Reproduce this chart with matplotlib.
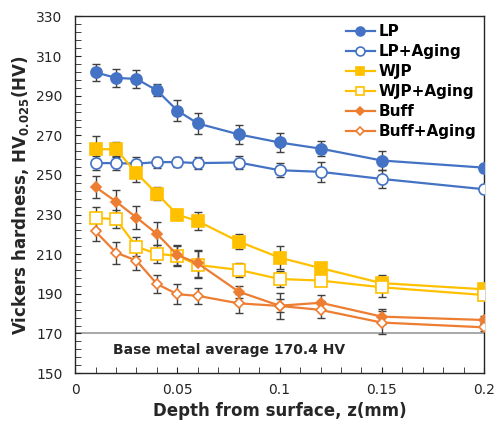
import numpy as np
import matplotlib.pyplot as plt

depth = [0.01, 0.02, 0.03, 0.04, 0.05, 0.06, 0.08, 0.1, 0.12, 0.15, 0.2]

lp = [301.8, 299.0, 298.5, 292.7, 282.5, 276.0, 270.5, 266.4, 263.3, 257.3, 253.7]
lp_err = [4.4, 4.6, 4.6, 3.0, 5.2, 5.2, 4.8, 4.7, 3.7, 4.9, 2.0]
lp_age = [256.0, 256.0, 255.7, 256.5, 256.5, 256.0, 256.3, 252.4, 251.6, 248.0, 242.8]
lp_age_err = [3.5, 3.5, 3.4, 2.8, 2.5, 3.2, 3.5, 3.5, 5.0, 4.6, 2.0]

wjp = [263.0, 263.0, 250.9, 240.6, 230.0, 226.7, 216.4, 208.3, 203.0, 195.4, 192.3]
wjp_err = [6.5, 3.8, 4.2, 3.4, 2.0, 4.4, 4.0, 6.0, 2.0, 4.2, 3.0]
wjp_age = [228.3, 227.7, 213.8, 210.2, 209.2, 204.6, 202.1, 197.5, 196.7, 193.3, 189.4]
wjp_age_err = [5.7, 4.6, 4.8, 4.6, 5.0, 6.8, 3.7, 4.0, 2.0, 5.0, 2.0]

buff = [243.9, 236.6, 228.5, 220.3, 209.6, 205.4, 191.1, 184.0, 185.5, 178.5, 176.8]
buff_err = [5.5, 5.7, 5.8, 5.8, 5.2, 6.8, 3.0, 6.5, 3.8, 3.7, 2.0]
buff_age = [221.5, 210.8, 206.8, 195.0, 189.8, 189.0, 185.2, 183.9, 181.9, 175.5, 173.1]
buff_age_err = [4.6, 5.6, 5.0, 4.6, 5.0, 4.2, 4.8, 3.3, 4.3, 5.7, 2.0]

base_metal = 170.4

x_ticks = [0, 0.05, 0.1, 0.15, 0.2]
x_tick_labels = ['0', '0.05', '0.1', '0.15', '0.2']
y_ticks = np.arange(150, 331, 20)

blue = '#4472C4'
yellow = '#FFC000'
orange = '#ED7D31'

fig = plt.figure(figsize=(4.94, 4.23), dpi=100)
ax = fig.add_axes([0.152, 0.118, 0.828, 0.843])

series = [
    (lp, lp_err, blue, 'o', True, 'LP'),
    (lp_age, lp_age_err, blue, 'o', False, 'LP+Aging'),
    (wjp, wjp_err, yellow, 's', True, 'WJP'),
    (wjp_age, wjp_age_err, yellow, 's', False, 'WJP+Aging'),
    (buff, buff_err, orange, 'D', True, 'Buff'),
    (buff_age, buff_age_err, orange, 'D', False, 'Buff+Aging'),
]

for vals, err, c, m, filled, lab in series:
    ms = 8 if m != 'D' else 5.5
    ax.errorbar(depth, vals, yerr=err, fmt='none', ecolor='#404040',
                elinewidth=1, capsize=3, capthick=1, zorder=2)
    ax.plot(depth, vals, color=c, marker=m, ms=ms, lw=1.6,
            mfc=c if filled else 'white', mec=c, mew=1.2, label=lab, zorder=3)

ax.axhline(base_metal, color='#9a9a9a', lw=1.2, zorder=1)
ax.text(0.0186, 161.7, 'Base metal average 170.4 HV', fontsize=10,
        fontweight='bold', color='#262626', va='center')

ax.set_xlim(0, 0.2)
ax.set_ylim(150, 330)
ax.set_xticks(x_ticks)
ax.set_xticklabels(x_tick_labels)
ax.set_xticks(np.arange(0, 0.2001, 0.01), minor=True)
ax.set_yticks(y_ticks)
ax.set_yticks(np.arange(150, 331, 4), minor=True)
ax.tick_params(which='both', direction='in', length=4, labelsize=10,
               colors='#262626')
ax.tick_params(axis='x', pad=7)
ax.tick_params(axis='y', pad=9)
for s in ax.spines.values():
    s.set_color('#262626')
    s.set_linewidth(1)

ax.set_xlabel('Depth from surface, z(mm)', fontsize=12, fontweight='bold',
              color='#262626', labelpad=4)
ax.set_ylabel(r'Vickers hardness, HV$_{\mathbf{0.025}}$(HV)', fontsize=12,
              fontweight='bold', color='#262626', labelpad=4)

ax.legend(loc='upper right', frameon=False,
          prop={'weight': 'bold', 'size': 11}, handlelength=1.9,
          handletextpad=0.25, labelspacing=0.33, borderaxespad=0.1,
          markerscale=0.8)

fig.savefig('out.png', dpi=100)
